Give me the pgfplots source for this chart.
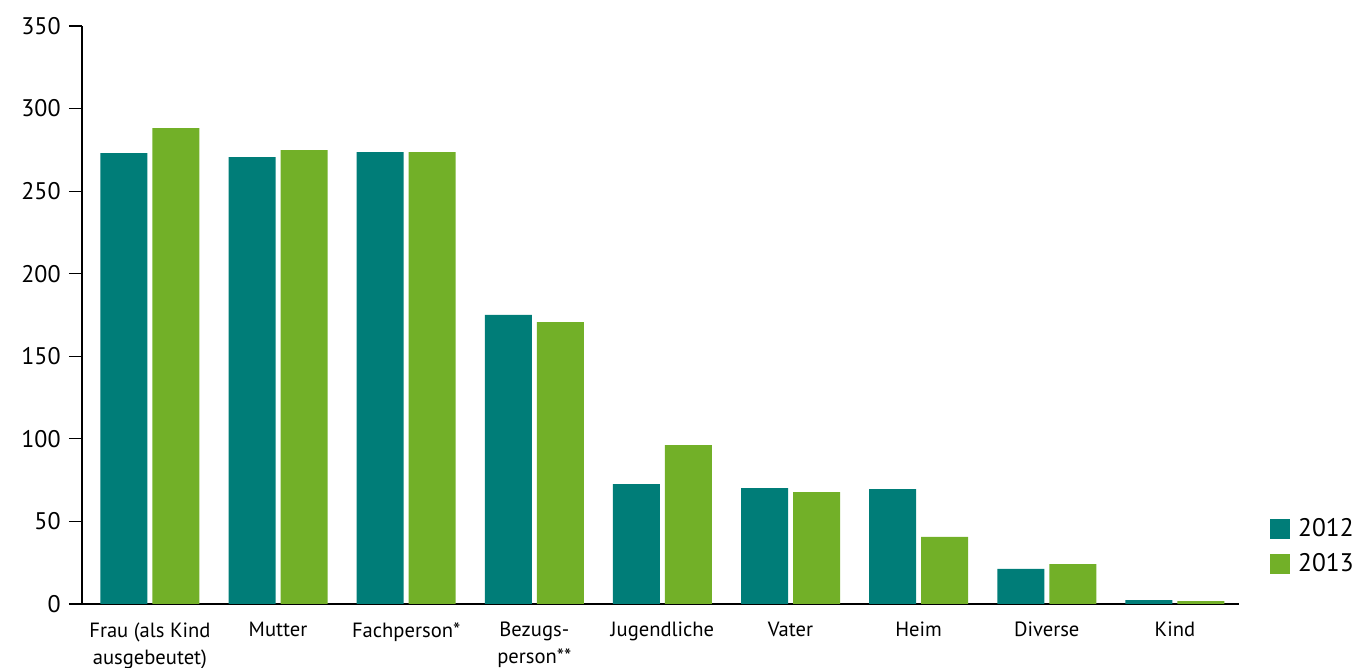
\documentclass[border=0pt]{standalone}
\usepackage{fontspec}
\setmainfont{PT Sans}
\usepackage{pgfplots}
\pgfplotsset{compat=1.18}
\definecolor{teal12}{RGB}{0,125,120}
\definecolor{green13}{RGB}{114,176,40}

\begin{document}
\begin{tikzpicture}
\begin{axis}[
    scale only axis,
    width=578.3pt, height=289pt,
    xmin=-0.53, xmax=8.497, ymin=0, ymax=350,
    ytick={0,50,...,350},
    xtick={0,...,8},
    xticklabels={{Frau (als Kind\\ausgebeutet)},Mutter,Fachperson*,{Bezugs-\\person**},Jugendliche,Vater,Heim,Diverse,Kind},
    axis lines*=left,
    axis line style={line width=1.4pt},
    tick align=outside,
    major tick length=6.5pt,
    ytick style={line width=0.6pt, black},
    xtick style={draw=none},
    yticklabel style={font=\fontsize{12}{14}\selectfont, inner sep=0pt, xshift=-4pt},
    xticklabel style={font=\fontsize{10.3}{13.5}\selectfont, align=center, inner sep=0pt, yshift=-2.5pt},
    /pgf/number format/assume math mode=true,
    ybar=2.5pt, bar width=23.5pt,
    legend style={draw=none, fill=none, at={(axis description cs:1.027,0.149)},
        anchor=north west, font=\fontsize{12.7}{15}\selectfont,
        row sep=7pt, column sep=4pt, inner sep=0pt, nodes={inner sep=0pt}},
    legend cell align=left,
    legend image code/.code={\fill[#1] (0pt,-5pt) rectangle (10pt,5pt);},
]
\addplot[fill=teal12, draw=none] coordinates {
    (0,273) (1,270.6) (2,273.6) (3,175) (4,72.6) (5,70.2) (6,69.6) (7,21.2) (8,2.4)};
\addplot[fill=green13, draw=none] coordinates {
    (0,288.1) (1,274.8) (2,273.6) (3,170.7) (4,96.2) (5,67.8) (6,40.6) (7,24.2) (8,1.8)};
\legend{2012,2013}
\end{axis}
\pgfresetboundingbox
\path[use as bounding box] ([shift={(-41pt,-32pt)}]current axis.south west) rectangle ++(678pt,334pt);
\end{tikzpicture}
\end{document}
